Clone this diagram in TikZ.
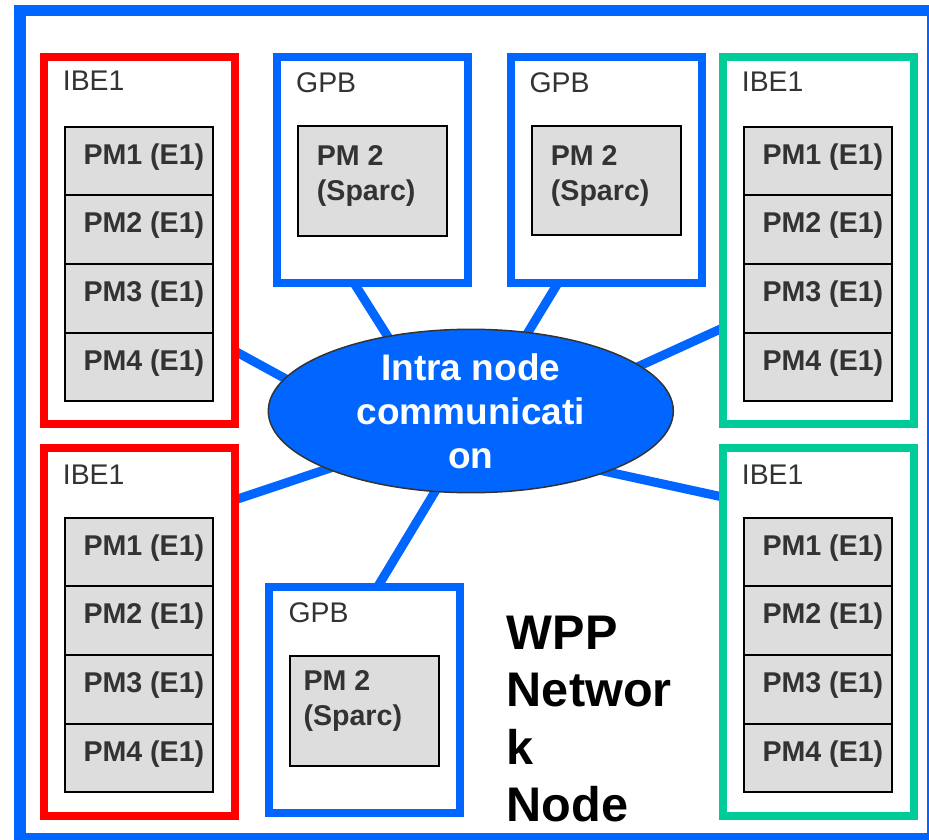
\documentclass[tikz,border=0pt]{standalone}
\usepackage{fontspec}
\setmainfont{Liberation Sans}
\usetikzlibrary{shapes.geometric,calc,backgrounds}
\definecolor{fblue}{RGB}{0,102,255}
\definecolor{fred}{RGB}{255,0,0}
\definecolor{fgreen}{RGB}{0,204,153}
\definecolor{cellgray}{RGB}{221,221,221}
\definecolor{txtgray}{RGB}{51,51,51}
\definecolor{ellborder}{RGB}{51,51,51}
\begin{document}
\begin{tikzpicture}[x=1pt,y=-1pt,
  frame/.style={draw=fblue,line width=11.5pt,outer sep=0pt,inner sep=0pt,anchor=north west},
  boxbase/.style={line width=8pt,fill=white,outer sep=0pt,inner sep=0pt,anchor=north west},
  ibered/.style={boxbase,draw=fred},
  ibegreen/.style={boxbase,draw=fgreen},
  gpbbox/.style={boxbase,draw=fblue},
  cell/.style={draw=black,line width=2pt,fill=cellgray,outer sep=0pt,inner sep=0pt,anchor=north west},
  lbl/.style={anchor=base west,inner sep=0pt,text=txtgray,font=\fontsize{28.4}{34}\selectfont},
  celltxt/.style={anchor=base west,inner sep=0pt,text=txtgray,font=\bfseries\fontsize{28.6}{35}\selectfont},
  link/.style={draw=fblue,line width=9pt,shorten <=-8pt,shorten >=-8pt},
]
\useasboundingbox (0,0) rectangle (929,840);
\begin{scope}
  \clip (0,0) rectangle (929,840);
  \node[frame,minimum width=912.5,minimum height=828] (frame) at (20,10.5) {};
\end{scope}

% outer boxes
\node[ibered,minimum width=191.2,minimum height=367] (r1) at (43.5,57) {};
\node[ibered,minimum width=191.2,minimum height=368] (r2) at (43.5,448) {};
\node[ibegreen,minimum width=190.8,minimum height=367] (gr1) at (722.7,57) {};
\node[ibegreen,minimum width=190.8,minimum height=368] (gr2) at (722.7,448) {};
\node[gpbbox,minimum width=191,minimum height=226] (g1) at (277,57) {};
\node[gpbbox,minimum width=191,minimum height=226] (g2) at (510.5,57) {};
\node[gpbbox,minimum width=191,minimum height=226] (g3) at (269.3,587) {};

% box labels
\node[lbl] (r1l) at (62.7,91) {IBE1};
\node[lbl] (r2l) at (62.7,484) {IBE1};
\node[lbl] (gr1l) at (741.7,91.5) {IBE1};
\node[lbl] (gr2l) at (741.7,484) {IBE1};
\node[lbl] (g1l) at (296,92.7) {GPB};
\node[lbl] (g2l) at (529.3,92.7) {GPB};
\node[lbl] (g3l) at (288.3,622.7) {GPB};

% PM cells
\foreach \bx/\X/\Y in {r1/65/126.7, r2/65/517.7, gr1/744/126.7, gr2/744/517.7}{
  \foreach \k in {1,...,4}{
    \node[cell,minimum width=148,minimum height=68.6] (\bx-c\k) at (\X,{\Y+(\k-1)*68.6}) {};
    \node[celltxt] (\bx-t\k) at ({\X+18.3},{\Y+(\k-1)*68.6+37.6}) {PM\k{} (E1)};
  }
}

% PM 2 (Sparc) boxes
\node[cell,minimum width=148.4,minimum height=109.7] (g1p) at (298.3,126) {};
\node[cell,minimum width=148.7,minimum height=109] (g2p) at (532,126) {};
\node[cell,minimum width=149,minimum height=109.7] (g3p) at (290.3,656) {};
\node[celltxt] (g1pt) at (316.7,165) {\begin{tabular}[t]{@{}l@{}}PM 2\\(Sparc)\end{tabular}};
\node[celltxt] (g2pt) at (550.7,165) {\begin{tabular}[t]{@{}l@{}}PM 2\\(Sparc)\end{tabular}};
\node[celltxt] (g3pt) at (303.3,690) {\begin{tabular}[t]{@{}l@{}}PM 2\\(Sparc)\end{tabular}};

% central ellipse
\node[ellipse,draw=ellborder,line width=1.5pt,fill=fblue,minimum width=405,minimum height=163.4,inner sep=0pt] (ell) at (470.8,411) {};
\node[anchor=base,inner sep=0pt,text=white,font=\bfseries\fontsize{37}{44}\selectfont] (ellt) at (470.8,380)
  {\begin{tabular}[t]{@{}c@{}}Intra node\\communicati\\on\end{tabular}};

% links
\begin{scope}[on background layer]
  \draw[link] (g1.south -| 354,0) -- (ell.138);
  \draw[link] (g2.south -| 558,0) -- (ell.54);
  \draw[link] (r1.east |- 0,351) -- (ell.170);
  \draw[link] (r2.east |- 0,500) -- (ell.202);
  \draw[link] (gr1.west |- 0,328) -- (ell.15);
  \draw[link] (gr2.west |- 0,497) -- (ell.336);
  \draw[link] (g3.north -| 377.5,0) -- (ell.246);
\end{scope}

% title
\node[anchor=base west,inner sep=0pt,text=black,font=\bfseries\fontsize{48.6}{57.5}\selectfont] (title) at (506.7,649)
  {\begin{tabular}[t]{@{}l@{}}WPP\\Networ\\k\\Node\end{tabular}};
\end{tikzpicture}
\end{document}
